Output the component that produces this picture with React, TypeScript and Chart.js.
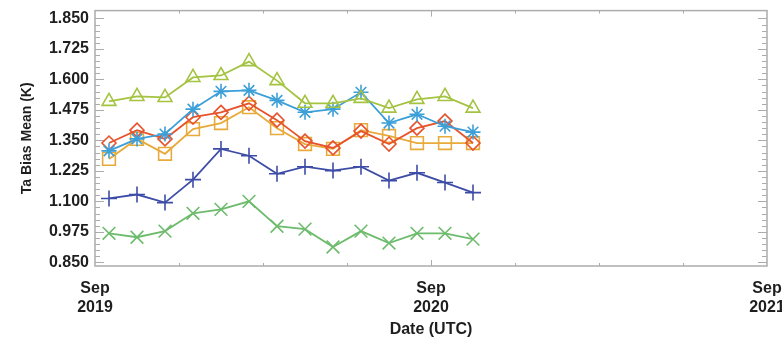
import React, { useEffect, useRef } from 'react';
import { Chart, registerables } from 'chart.js';

Chart.register(...registerables);

// Monthly means, mid-month, Sep 2019 .. Oct 2020
const months = [
  '2019-09', '2019-10', '2019-11', '2019-12', '2020-01', '2020-02', '2020-03',
  '2020-04', '2020-05', '2020-06', '2020-07', '2020-08', '2020-09', '2020-10',
];

const triangleSeries = [1.510, 1.530, 1.526, 1.608, 1.616, 1.673, 1.595, 1.502, 1.502, 1.522, 1.482, 1.518, 1.530, 1.482];
const starSeries = [1.307, 1.356, 1.376, 1.478, 1.551, 1.555, 1.514, 1.465, 1.478, 1.547, 1.421, 1.457, 1.408, 1.384];
const diamondSeries = [1.339, 1.392, 1.356, 1.445, 1.465, 1.502, 1.433, 1.347, 1.319, 1.388, 1.335, 1.400, 1.429, 1.339];
const squareSeries = [1.274, 1.356, 1.295, 1.396, 1.421, 1.486, 1.400, 1.335, 1.315, 1.392, 1.368, 1.339, 1.339, 1.339];
const plusSeries = [1.112, 1.128, 1.095, 1.189, 1.315, 1.287, 1.213, 1.242, 1.226, 1.242, 1.185, 1.217, 1.177, 1.136];
const xSeries = [0.969, 0.953, 0.978, 1.051, 1.067, 1.100, 0.998, 0.986, 0.913, 0.978, 0.929, 0.969, 0.969, 0.945];

const yTickValues = [0.85, 0.975, 1.1, 1.225, 1.35, 1.475, 1.6, 1.725, 1.85];
const xTickMonths = [0, 12, 24];
const xTickLabels = [['Sep', '2019'], ['Sep', '2020'], ['Sep', '2021']];

const X_MIN = 0;
const X_MAX = 24;
const Y_MIN = 0.835;
const Y_MAX = 1.882;

// months since Sep 2019, centred mid-month
const monthPos = (m: string) => {
  const [yy, mm] = m.split('-').map(Number);
  return (yy - 2019) * 12 + (mm - 9) + 0.5;
};

const toPoints = (vals: number[]) => vals.map((v, i) => ({ x: monthPos(months[i]), y: v }));

const FRAME = '#acacac';
const TEXT = '#1e1e1e';
const FONT = '"Liberation Sans", Arial, sans-serif';

const framePlugin = {
  id: 'frameTicks',
  beforeDatasetsDraw(chart: any) {
    const { ctx, chartArea, scales } = chart;
    const { left, right, top, bottom } = chartArea;
    const x = scales.x;
    const y = scales.y;
    ctx.save();
    ctx.strokeStyle = FRAME;
    ctx.lineWidth = 1.5;
    ctx.strokeRect(left, top, right - left, bottom - top);
    ctx.lineWidth = 1;
    ctx.beginPath();
    for (let i = 0; i <= 40; i++) {
      const v = 0.85 + i * 0.025;
      const py = Math.round(y.getPixelForValue(v)) + 0.5;
      const len = i % 5 === 0 ? 9 : 5;
      ctx.moveTo(left, py);
      ctx.lineTo(left + len, py);
      ctx.moveTo(right, py);
      ctx.lineTo(right - len, py);
    }
    for (let m = 3; m < 24; m += 3) {
      const px = Math.round(x.getPixelForValue(m)) + 0.5;
      const len = m % 12 === 0 ? 6 : 3;
      ctx.moveTo(px, bottom);
      ctx.lineTo(px, bottom - len);
      ctx.moveTo(px, top);
      ctx.lineTo(px, top + len);
    }
    ctx.stroke();
    ctx.restore();
  },
};

function makeDataset(label: string, data: number[], color: string, pointStyle: string, radius: number) {
  return {
    label,
    data: toPoints(data),
    borderColor: color,
    backgroundColor: 'rgba(0,0,0,0)',
    pointBorderColor: color,
    pointBackgroundColor: 'rgba(0,0,0,0)',
    pointStyle,
    pointRadius: radius,
    pointBorderWidth: 1.6,
    borderWidth: 1.8,
    tension: 0,
  };
}

export default function App() {
  const ref = useRef<HTMLCanvasElement | null>(null);

  useEffect(() => {
    if (!ref.current) return;
    const chart = new Chart(ref.current, {
      type: 'line',
      data: {
        datasets: [
          makeDataset('triangle', triangleSeries, '#a4c341', 'triangle', 8),
          makeDataset('star', starSeries, '#3c9fd8', 'star', 7.5),
          makeDataset('diamond', diamondSeries, '#e6532c', 'rectRot', 7),
          makeDataset('square', squareSeries, '#e8aa3a', 'rect', 9),
          makeDataset('plus', plusSeries, '#3d4ca6', 'cross', 8),
          makeDataset('x', xSeries, '#6dbb6c', 'crossRot', 9),
        ] as any,
      },
      options: {
        animation: false,
        responsive: false,
        devicePixelRatio: 1,
        layout: { padding: { left: 0, right: 15, top: 9, bottom: 0 } },
        plugins: {
          legend: { display: false },
          tooltip: { enabled: false },
        },
        scales: {
          x: {
            type: 'linear',
            min: X_MIN,
            max: X_MAX,
            grid: { display: false, drawTicks: false },
            border: { display: false },
            afterBuildTicks: (scale: any) => {
              scale.ticks = xTickMonths.map((v) => ({ value: v }));
            },
            afterFit: (scale: any) => {
              scale.height = 79;
              scale.paddingLeft = 0;
              scale.paddingRight = 0;
            },
            ticks: {
              autoSkip: false,
              maxRotation: 0,
              padding: 13,
              color: TEXT,
              font: { family: FONT, size: 16, weight: 'bold' },
              callback: (v: any) => {
                const i = xTickMonths.indexOf(Number(v));
                return i >= 0 ? xTickLabels[i] : '';
              },
            },
            title: {
              display: true,
              text: 'Date (UTC)',
              color: TEXT,
              font: { family: FONT, size: 16, weight: 'bold' },
              padding: { top: 0, bottom: 6 },
            },
          },
          y: {
            type: 'linear',
            min: Y_MIN,
            max: Y_MAX,
            grid: { display: false, drawTicks: false },
            border: { display: false },
            afterBuildTicks: (scale: any) => {
              scale.ticks = yTickValues.map((v) => ({ value: v }));
            },
            afterFit: (scale: any) => {
              scale.width = 95;
              scale.paddingTop = 0;
              scale.paddingBottom = 0;
            },
            ticks: {
              autoSkip: false,
              padding: 6,
              color: TEXT,
              font: { family: FONT, size: 16, weight: 'bold' },
              callback: (v: any) => Number(v).toFixed(3),
            },
            title: {
              display: true,
              text: 'Ta Bias Mean (K)',
              color: TEXT,
              font: { family: FONT, size: 14, weight: 'bold' },
              padding: { top: 19, bottom: 0 },
            },
          },
        },
      } as any,
      plugins: [framePlugin],
    });
    return () => chart.destroy();
  }, []);

  return (
    <div style={{ position: 'fixed', left: 0, top: 0, width: 782, height: 345, background: '#fff' }}>
      <canvas ref={ref} width={782} height={345} style={{ width: 782, height: 345, display: 'block' }} />
    </div>
  );
}
